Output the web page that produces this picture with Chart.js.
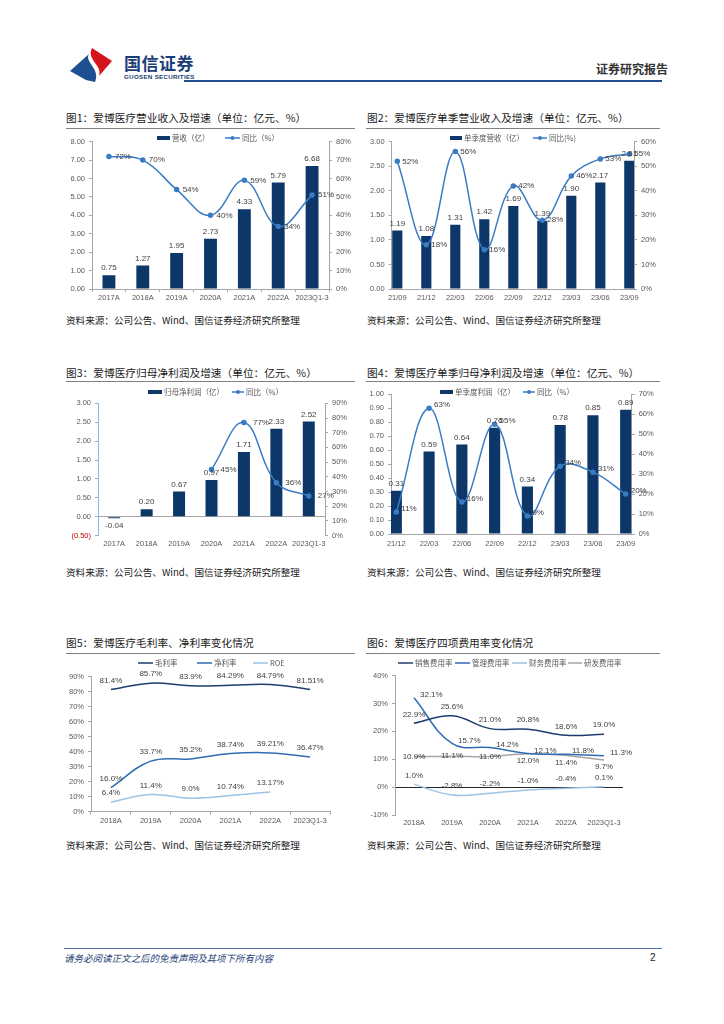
<!DOCTYPE html>
<html>
<head>
<meta charset="utf-8">
<script src="https://cdn.jsdelivr.net/npm/chart.js@4.4.0/dist/chart.umd.min.js"></script>
<style>
  body { margin: 0; width: 724px; height: 1024px; background: #fff; position: relative; overflow: hidden; font-family: "Noto Sans CJK SC", sans-serif; }
  .abs { position: absolute; white-space: nowrap; }
  .title { font-size: 10.7px; line-height: 14px; color: #1a1a1a; }
  .rule { height: 1px; background: #808080; }
  .src { font-size: 9.6px; line-height: 14px; color: #1a1a1a; }
  canvas.c { position: absolute; }
</style>
</head>
<body>
<canvas id="logo" class="abs" width="48" height="40" style="left:68px;top:45px"></canvas>
<div class="abs" style="left:124px;top:53px;font-size:17px;line-height:20px;font-weight:bold;color:#1b3d78;letter-spacing:0.5px">国信证券</div>
<div class="abs" style="left:124px;top:73px;font-family:'Liberation Sans',Arial;font-size:6.2px;line-height:8px;font-weight:bold;color:#1b3d78;letter-spacing:0.3px">GUOSEN SECURITIES</div>
<div class="abs" style="left:596px;top:61px;font-size:12px;line-height:16px;font-weight:bold;color:#333">证券研究报告</div>
<div class="abs" style="left:184px;top:80px;width:478px;height:2px;background:#1f4e8c"></div>

<div class="abs title" style="left:66px;top:111px">图1：爱博医疗营业收入及增速（单位：亿元、%）</div>
<div class="abs title" style="left:367px;top:111px">图2：爱博医疗单季营业收入及增速（单位：亿元、%）</div>
<div class="abs rule" style="left:66px;top:128px;width:289px"></div>
<div class="abs rule" style="left:366px;top:128px;width:294px"></div>
<canvas id="c1" class="c" width="300" height="180" style="left:60px;top:128px"></canvas>
<canvas id="c2" class="c" width="300" height="180" style="left:360px;top:128px"></canvas>
<div class="abs src" style="left:66px;top:313px">资料来源：公司公告、Wind、国信证券经济研究所整理</div>
<div class="abs src" style="left:367px;top:313px">资料来源：公司公告、Wind、国信证券经济研究所整理</div>

<div class="abs title" style="left:66px;top:366px">图3：爱博医疗归母净利润及增速（单位：亿元、%）</div>
<div class="abs title" style="left:367px;top:366px">图4：爱博医疗单季归母净利润及增速（单位：亿元、%）</div>
<div class="abs rule" style="left:66px;top:381px;width:289px"></div>
<div class="abs rule" style="left:366px;top:381px;width:294px"></div>
<canvas id="c3" class="c" width="300" height="180" style="left:60px;top:380px"></canvas>
<canvas id="c4" class="c" width="300" height="180" style="left:360px;top:380px"></canvas>
<div class="abs src" style="left:66px;top:565px">资料来源：公司公告、Wind、国信证券经济研究所整理</div>
<div class="abs src" style="left:367px;top:565px">资料来源：公司公告、Wind、国信证券经济研究所整理</div>

<div class="abs title" style="left:66px;top:636px">图5：爱博医疗毛利率、净利率变化情况</div>
<div class="abs title" style="left:367px;top:636px">图6：爱博医疗四项费用率变化情况</div>
<div class="abs rule" style="left:66px;top:653px;width:289px"></div>
<div class="abs rule" style="left:366px;top:653px;width:294px"></div>
<canvas id="c5" class="c" width="300" height="175" style="left:60px;top:655px"></canvas>
<canvas id="c6" class="c" width="300" height="175" style="left:360px;top:655px"></canvas>
<div class="abs src" style="left:66px;top:838px">资料来源：公司公告、Wind、国信证券经济研究所整理</div>
<div class="abs src" style="left:367px;top:838px">资料来源：公司公告、Wind、国信证券经济研究所整理</div>

<div class="abs" style="left:64px;top:948px;width:598px;height:1px;background:#4a6fa5"></div>
<div class="abs" style="left:64px;top:951px;font-size:9.5px;line-height:14px;font-style:italic;color:#1f3f77">请务必阅读正文之后的免责声明及其项下所有内容</div>
<div class="abs" style="left:650px;top:951px;font-family:'Liberation Sans',Arial;font-size:10px;line-height:14px;color:#1a1a1a">2</div>

<script>
// 图1 营收
const yearsA = ['2017A', '2018A', '2019A', '2020A', '2021A', '2022A', '2023Q1-3']
const revenue = [0.75, 1.27, 1.95, 2.73, 4.33, 5.79, 6.68]
const revenueYoy = [72, 70, 54, 40, 59, 34, 51]
// 图2 单季营收
const quartersA = ['21/09', '21/12', '22/03', '22/06', '22/09', '22/12', '23/03', '23/06', '23/09']
const qRevenue = [1.19, 1.08, 1.31, 1.42, 1.69, 1.39, 1.90, 2.17, 2.61]
const qRevenueYoy = [52, 18, 56, 16, 42, 28, 46, 53, 55]
// 图3 归母净利润
const netProfit = [-0.04, 0.20, 0.67, 0.97, 1.71, 2.33, 2.52]
const netProfitYoy = [null, null, null, 45, 77, 36, 27]
// 图4 单季利润
const quartersB = ['21/12', '22/03', '22/06', '22/09', '22/12', '23/03', '23/06', '23/09']
const qProfit = [0.31, 0.59, 0.64, 0.76, 0.34, 0.78, 0.85, 0.89]
const qProfitYoy = [11, 63, 16, 55, 9, 34, 31, 20]
// 图5 / 图6
const yearsB = ['2018A', '2019A', '2020A', '2021A', '2022A', '2023Q1-3']
const grossMargin = [81.4, 85.7, 83.9, 84.29, 84.79, 81.51]
const netMargin = [16.0, 33.7, 35.2, 38.74, 39.21, 36.47]
const roe = [6.4, 11.4, 9.0, 10.74, 13.17, null]
const sellingRate = [22.9, 25.6, 21.0, 20.8, 18.6, 19.0]
const adminRate = [32.1, 15.7, 14.2, 12.1, 11.8, 11.3]
const financeRate = [1.0, -2.8, -2.2, -1.0, -0.4, 0.1]
const rdRate = [10.9, 11.1, 11.0, 12.0, 11.4, 9.7]

const navy = '#0c3768'
const lineBlue = '#3a7cc3'
const axisGray = '#a6a6a6'
const cjk = '"Noto Sans CJK SC", sans-serif'

Chart.defaults.font.family = '"Liberation Sans", Arial, sans-serif'
Chart.defaults.font.size = 7.5
Chart.defaults.color = '#595959'
Chart.defaults.animation = false
Chart.defaults.plugins.legend.display = false
Chart.defaults.plugins.tooltip.enabled = false

// logo
const lg = document.getElementById('logo').getContext('2d')
lg.fillStyle = '#1d4f91'
lg.beginPath()
lg.moveTo(2, 26)
lg.lineTo(21, 9)
lg.bezierCurveTo(16, 17, 33, 24, 27, 37)
lg.lineTo(18, 35)
lg.closePath()
lg.fill()
lg.fillStyle = '#d7141c'
lg.beginPath()
lg.moveTo(24, 3)
lg.lineTo(44, 16)
lg.lineTo(31, 31)
lg.bezierCurveTo(35, 20, 18, 15, 24, 3)
lg.closePath()
lg.fill()

const pct1 = v => (Math.abs(Math.round(v * 10) - v * 10) < 1e-6 ? v.toFixed(1) : v.toFixed(2)) + '%'

// 数据标签
const valueLabels = {
  id: 'valueLabels',
  afterDatasetsDraw(chart) {
    const ctx = chart.ctx
    ctx.save()
    ctx.font = '8px "Liberation Sans", Arial, sans-serif'
    ctx.fillStyle = '#404040'
    ctx.textBaseline = 'middle'
    chart.data.datasets.forEach((ds, di) => {
      const lab = ds.valueLabel
      if (!lab) return
      const meta = chart.getDatasetMeta(di)
      meta.data.forEach((el, i) => {
        const raw = ds.data[i]
        const v = raw !== null && typeof raw === 'object' ? raw.y : raw
        if (v === null || v === undefined) return
        const pos = Array.isArray(lab.pos) ? lab.pos[i] : lab.pos
        const gap = lab.gap ?? 7
        let x = el.x + (lab.dx || 0)
        let y = el.y + (lab.dy || 0)
        if (pos === 'right') {
          ctx.textAlign = 'left'
          x += gap
        } else if (pos === 'center') {
          ctx.textAlign = 'center'
        } else if (pos === 'bottom' || (v < 0 && meta.type === 'bar')) {
          ctx.textAlign = 'center'
          y += gap
        } else {
          ctx.textAlign = 'center'
          y -= gap
        }
        ctx.fillText(lab.fmt(v), x, y)
      })
    })
    ctx.restore()
  }
}

// 图例
const miniLegend = {
  id: 'miniLegend',
  afterDraw(chart, args, opts) {
    const ctx = chart.ctx
    ctx.save()
    ctx.font = '7.5px ' + cjk
    ctx.textBaseline = 'middle'
    ctx.textAlign = 'left'
    opts.items.forEach(it => {
      const ds = chart.data.datasets[it.ds]
      const y = opts.y
      if ((ds.type || chart.config.type) === 'bar') {
        ctx.fillStyle = ds.backgroundColor
        ctx.fillRect(it.x, y - 2, it.w, 4)
      } else {
        ctx.strokeStyle = ds.borderColor
        ctx.lineWidth = ds.borderWidth || 1.5
        ctx.beginPath()
        ctx.moveTo(it.x, y)
        ctx.lineTo(it.x + it.w, y)
        ctx.stroke()
        if (ds.pointRadius) {
          ctx.fillStyle = ds.borderColor
          ctx.beginPath()
          ctx.arc(it.x + it.w / 2, y, 2, 0, Math.PI * 2)
          ctx.fill()
        }
      }
      ctx.fillStyle = '#595959'
      ctx.fillText(ds.label, it.x + it.w + 2, y)
    })
    ctx.restore()
  }
}

const sideAxis = (pos, min, max, step, width, fmt, extra) => Object.assign({
  position: pos,
  min: min,
  max: max,
  ticks: { stepSize: step, padding: 4, callback: fmt },
  grid: { drawOnChartArea: false, tickLength: 3, color: axisGray },
  border: { color: axisGray },
  afterFit: s => { s.width = width }
}, extra || {})

// 图1
new Chart(document.getElementById('c1'), {
  type: 'bar',
  data: {
    labels: yearsA,
    datasets: [
      {
        type: 'line', label: '同比（%）', data: revenueYoy, yAxisID: 'y1',
        borderColor: lineBlue, backgroundColor: lineBlue, borderWidth: 1.5,
        pointRadius: 2, tension: 0.4, order: 0,
        valueLabel: { pos: 'right', gap: 6, fmt: v => v + '%' }
      },
      {
        label: '营收（亿）', data: revenue, yAxisID: 'y', backgroundColor: navy,
        barPercentage: 0.38, categoryPercentage: 1, order: 1,
        valueLabel: { pos: 'top', gap: 7, fmt: v => v.toFixed(2) }
      }
    ]
  },
  options: {
    responsive: false,
    layout: { padding: { top: 13.7 } },
    scales: {
      x: {
        grid: { drawOnChartArea: false, tickLength: 3, color: axisGray },
        border: { color: axisGray },
        ticks: { padding: 1, maxRotation: 0, autoSkip: false },
        afterFit: s => { s.height = 19 }
      },
      y: sideAxis('left', 0, 8, 1, 32, v => v.toFixed(2)),
      y1: sideAxis('right', 0, 80, 10, 31, v => v + '%')
    },
    plugins: { miniLegend: { y: 10, items: [{ ds: 1, x: 97, w: 13 }, { ds: 0, x: 165, w: 15 }] } }
  },
  plugins: [valueLabels, miniLegend]
})

// 图2
new Chart(document.getElementById('c2'), {
  type: 'bar',
  data: {
    datasets: [
      {
        type: 'line', label: '同比(%)', data: qRevenueYoy.map((v, i) => ({ x: i, y: v })), yAxisID: 'y1',
        borderColor: lineBlue, backgroundColor: lineBlue, borderWidth: 1.5,
        pointRadius: 2, tension: 0.4, order: 0,
        valueLabel: { pos: 'right', gap: 5, fmt: v => v + '%' }
      },
      {
        label: '单季度营收（亿）', data: qRevenue.map((v, i) => ({ x: i, y: v })), yAxisID: 'y', backgroundColor: navy,
        barPercentage: 0.35, categoryPercentage: 1, order: 1,
        valueLabel: { pos: 'top', gap: 7, fmt: v => v.toFixed(2) }
      }
    ]
  },
  options: {
    responsive: false,
    layout: { padding: { top: 13.7 } },
    scales: {
      x: {
        type: 'linear', offset: false, min: -0.193, max: 8.162,
        afterBuildTicks: s => { s.ticks = quartersA.map((q, i) => ({ value: i })) },
        grid: { drawOnChartArea: false, offset: false, tickLength: 3, color: 'rgba(0,0,0,0)' },
        border: { color: axisGray },
        ticks: { padding: 1, maxRotation: 0, autoSkip: false, callback: v => quartersA[v] },
        afterFit: s => { s.height = 19 }
      },
      y: sideAxis('left', 0, 3, 0.5, 31.7, v => v.toFixed(2)),
      y1: sideAxis('right', 0, 60, 10, 26, v => v + '%')
    },
    plugins: { miniLegend: { y: 10, items: [{ ds: 1, x: 90, w: 12 }, { ds: 0, x: 173, w: 14 }] } }
  },
  plugins: [valueLabels, miniLegend]
})

// 图3
new Chart(document.getElementById('c3'), {
  type: 'bar',
  data: {
    labels: yearsA,
    datasets: [
      {
        type: 'line', label: '同比（%）', data: netProfitYoy, yAxisID: 'y1',
        borderColor: lineBlue, backgroundColor: lineBlue, borderWidth: 1.5,
        pointRadius: 2, tension: 0.4, order: 0,
        valueLabel: { pos: 'right', gap: 9, fmt: v => v + '%' }
      },
      {
        label: '归母净利润（亿）', data: netProfit, yAxisID: 'y', backgroundColor: navy,
        barPercentage: 0.37, categoryPercentage: 1, order: 1,
        valueLabel: { pos: 'top', gap: 7, fmt: v => v.toFixed(2) }
      }
    ]
  },
  options: {
    responsive: false,
    layout: { padding: { top: 23.3 } },
    scales: {
      x: {
        grid: { display: false, drawTicks: false },
        border: { display: false },
        ticks: { padding: 4, maxRotation: 0, autoSkip: false },
        afterFit: s => { s.height = 24.3 }
      },
      y: sideAxis('left', -0.5, 3, 0.5, 38, v => v.toFixed(2), {
        ticks: {
          stepSize: 0.5, padding: 4,
          callback: v => v < 0 ? '(' + Math.abs(v).toFixed(2) + ')' : v.toFixed(2),
          color: c => c.tick && c.tick.value < 0 ? '#c00000' : '#595959'
        },
        grid: {
          drawOnChartArea: true, tickLength: 3, tickColor: '#8db4e2',
          color: c => c.tick && Math.abs(c.tick.value) < 1e-9 ? axisGray : 'rgba(0,0,0,0)'
        },
        border: { color: '#8db4e2' }
      }),
      y1: sideAxis('right', 0, 90, 10, 35, v => v + '%')
    },
    plugins: { miniLegend: { y: 12, items: [{ ds: 1, x: 88, w: 14 }, { ds: 0, x: 172, w: 12 }] } }
  },
  plugins: [valueLabels, miniLegend]
})

// 图4
new Chart(document.getElementById('c4'), {
  type: 'bar',
  data: {
    datasets: [
      {
        type: 'line', label: '同比（%）', data: qProfitYoy.map((v, i) => ({ x: i, y: v })), yAxisID: 'y1',
        borderColor: lineBlue, backgroundColor: lineBlue, borderWidth: 1.5,
        pointRadius: 2, tension: 0.4, order: 0,
        valueLabel: { pos: 'right', gap: 5, dy: -3, fmt: v => v + '%' }
      },
      {
        label: '单季度利润（亿）', data: qProfit.map((v, i) => ({ x: i, y: v })), yAxisID: 'y', backgroundColor: navy,
        barPercentage: 0.34, categoryPercentage: 1, order: 1,
        valueLabel: { pos: 'top', gap: 7, fmt: v => v.toFixed(2) }
      }
    ]
  },
  options: {
    responsive: false,
    layout: { padding: { top: 14.3 } },
    scales: {
      x: {
        type: 'linear', offset: false, min: -0.162, max: 7.183,
        afterBuildTicks: s => { s.ticks = quartersB.map((q, i) => ({ value: i })) },
        grid: { drawOnChartArea: false, offset: false, tickLength: 3, color: 'rgba(0,0,0,0)' },
        border: { color: axisGray },
        ticks: { padding: 2, maxRotation: 0, autoSkip: false, callback: v => quartersB[v] },
        afterFit: s => { s.height = 26 }
      },
      y: sideAxis('left', 0, 1, 0.1, 31, v => v.toFixed(2)),
      y1: sideAxis('right', 0, 70, 10, 28.3, v => v + '%')
    },
    plugins: { miniLegend: { y: 12, items: [{ ds: 1, x: 80, w: 13 }, { ds: 0, x: 163, w: 12 }] } }
  },
  plugins: [valueLabels, miniLegend]
})

// 图5
new Chart(document.getElementById('c5'), {
  type: 'line',
  data: {
    labels: yearsB,
    datasets: [
      { label: '毛利率', data: grossMargin, borderColor: '#1f3c6e', borderWidth: 1.5, pointRadius: 0, tension: 0.4,
        valueLabel: { pos: 'top', gap: 9, fmt: pct1 } },
      { label: '净利率', data: netMargin, borderColor: '#2e6db4', borderWidth: 1.5, pointRadius: 0, tension: 0.4,
        valueLabel: { pos: 'top', gap: 9, fmt: pct1 } },
      { label: 'ROE', data: roe, borderColor: '#9dc3e6', borderWidth: 1.5, pointRadius: 0, tension: 0.4,
        valueLabel: { pos: 'top', gap: 9, fmt: pct1 } }
    ]
  },
  options: {
    responsive: false,
    layout: { padding: { top: 21.7, right: 30 } },
    scales: {
      x: {
        offset: true,
        grid: { drawOnChartArea: false, offset: true, tickLength: 3, color: axisGray },
        border: { color: axisGray },
        ticks: { padding: 2, maxRotation: 0, autoSkip: false },
        afterFit: s => { s.height = 18.3 }
      },
      y: sideAxis('left', 0, 90, 10, 31, v => v + '%')
    },
    plugins: { miniLegend: { y: 8, items: [{ ds: 0, x: 78, w: 15 }, { ds: 1, x: 137, w: 15 }, { ds: 2, x: 193, w: 15 }] } }
  },
  plugins: [valueLabels, miniLegend]
})

// 图6
new Chart(document.getElementById('c6'), {
  type: 'line',
  data: {
    labels: yearsB,
    datasets: [
      { label: '销售费用率', data: sellingRate, borderColor: '#1f3c6e', borderWidth: 1.5, pointRadius: 0, tension: 0.4,
        valueLabel: { pos: 'top', gap: 9, fmt: v => v.toFixed(1) + '%' } },
      { label: '管理费用率', data: adminRate, borderColor: '#2e6db4', borderWidth: 1.5, pointRadius: 0, tension: 0.4,
        valueLabel: { pos: 'right', gap: 6, dy: -3, fmt: v => v.toFixed(1) + '%' } },
      { label: '财务费用率', data: financeRate, borderColor: '#9dc3e6', borderWidth: 1.5, pointRadius: 0, tension: 0.4,
        valueLabel: { pos: 'top', gap: 9, fmt: v => v.toFixed(1) + '%' } },
      { label: '研发费用率', data: rdRate, borderColor: '#a6a6a6', borderWidth: 1.5, pointRadius: 0, tension: 0.4,
        valueLabel: { pos: ['center', 'center', 'center', 'bottom', 'bottom', 'bottom'], gap: 7, fmt: v => v.toFixed(1) + '%' } }
    ]
  },
  options: {
    responsive: false,
    layout: { padding: { top: 20.7, right: 37 } },
    scales: {
      x: {
        offset: true,
        grid: { display: false, drawTicks: false },
        border: { display: false },
        ticks: { padding: 3, maxRotation: 0, autoSkip: false },
        afterFit: s => { s.height = 15 }
      },
      y: sideAxis('left', -10, 40, 10, 35, v => v + '%', {
        grid: {
          drawOnChartArea: true, tickLength: 3, tickColor: axisGray,
          color: c => c.tick && c.tick.value === 0 ? '#262626' : 'rgba(0,0,0,0)'
        }
      })
    },
    plugins: { miniLegend: { y: 8, items: [{ ds: 0, x: 38, w: 15 }, { ds: 1, x: 95, w: 15 }, { ds: 2, x: 152, w: 15 }, { ds: 3, x: 208, w: 14 }] } }
  },
  plugins: [valueLabels, miniLegend]
})
</script>
</body>
</html>
